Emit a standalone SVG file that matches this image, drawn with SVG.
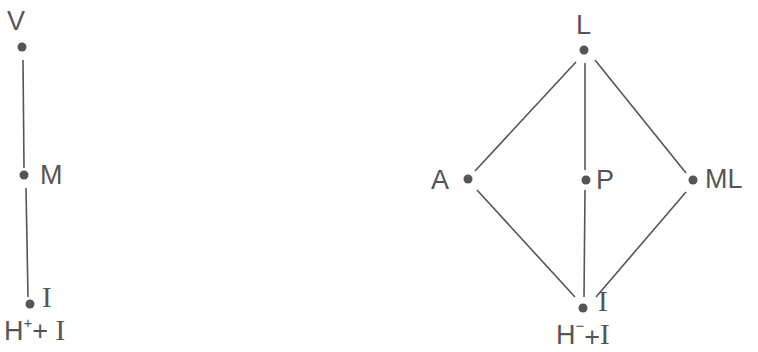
<svg xmlns="http://www.w3.org/2000/svg" width="758" height="352" viewBox="0 0 758 352">
<style>
.e{stroke:#555;stroke-width:1.6;fill:none}
.d{fill:#555}
.t{font-family:"Liberation Sans",Arial,sans-serif;font-size:27px;fill:#555}
.r{font-family:"Liberation Serif",serif;font-size:29px}
.s{font-size:15px}
</style>
<rect width="758" height="352" fill="#fff"/>
<g id="connectors">
<line class="e" x1="23" y1="60" x2="24" y2="168"/>
<line class="e" x1="26" y1="188" x2="28" y2="297"/>
<line class="e" x1="576" y1="62" x2="475" y2="171"/>
<line class="e" x1="477" y1="190" x2="575" y2="297"/>
<line class="e" x1="585" y1="63" x2="585" y2="170"/>
<line class="e" x1="585" y1="190" x2="584" y2="297"/>
<line class="e" x1="595" y1="60" x2="686" y2="173"/>
<line class="e" x1="686" y1="192" x2="596" y2="297"/>
</g>
<g id="V"><circle class="d" cx="22" cy="47" r="4.5"/><text class="t" x="7" y="30">V</text></g>
<g id="M"><circle class="d" cx="24" cy="175" r="4.5"/><text class="t" x="40" y="184">M</text></g>
<g id="I1"><circle class="d" cx="30" cy="304" r="4.5"/><text class="t r" x="42" y="307">I</text><text class="t" x="4" y="340">H<tspan class="s" dy="-12">+</tspan><tspan dy="12">+ </tspan><tspan class="r">I</tspan></text></g>
<g id="L"><circle class="d" cx="584" cy="50" r="4.5"/><text class="t" x="576" y="34">L</text></g>
<g id="A"><circle class="d" cx="468" cy="179" r="4.5"/><text class="t" x="431" y="189">A</text></g>
<g id="P"><circle class="d" cx="586" cy="180" r="4.5"/><text class="t" x="596" y="189">P</text></g>
<g id="ML"><circle class="d" cx="693" cy="180" r="4.5"/><text class="t" x="705" y="188">ML</text></g>
<g id="I2"><circle class="d" cx="583" cy="308" r="4.5"/><text class="t r" x="598" y="311">I</text><text class="t" x="556" y="344">H<tspan class="s" dy="-13">−</tspan><tspan dy="15">+</tspan><tspan class="r" dy="-2">I</tspan></text></g>
</svg>
